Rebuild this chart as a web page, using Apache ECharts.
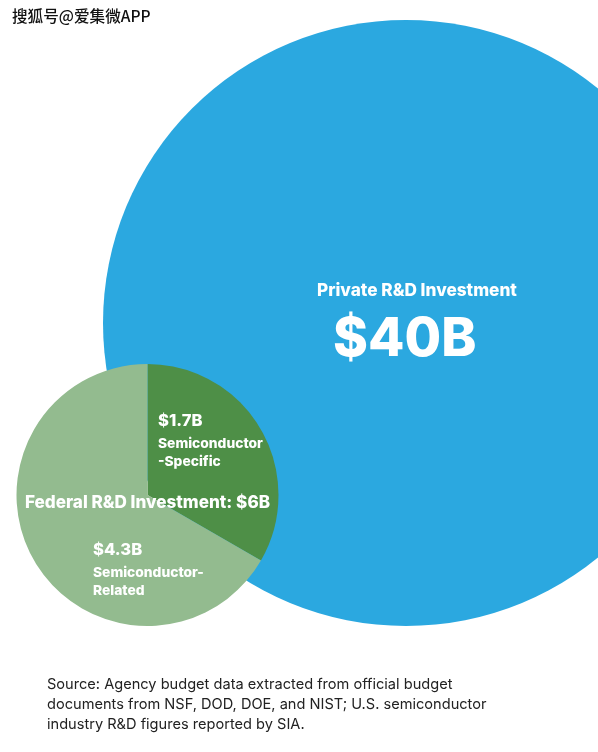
<!DOCTYPE html>
<html>
<head>
<meta charset="utf-8">
<style>html,body{margin:0;padding:0;background:#fff}#c{width:598px;height:752px}</style>
<script src="https://cdn.jsdelivr.net/npm/echarts@6/dist/echarts.min.js"></script>
</head>
<body>
<div id="c"></div>
<script>
// Labelled amounts ($B) as printed in the reference
const privateValue = 40;
const federalNames = ['Semiconductor-Specific', 'Semiconductor-Related'];
// Wedge shares as actually drawn in the reference (about 120 / 240 degrees),
// which differ from the printed 1.7 / 4.3 split.
const federalDrawnShares = [2, 4];
const federalColors = ['#4e8f47', '#93bb8f'];
const privateColor = '#2ba8e0';
const sourceLines = [
  'Source: Agency budget data extracted from official budget',
  'documents from NSF, DOD, DOE, and NIST; U.S. semiconductor',
  'industry R&D figures reported by SIA.'
];

const FONT = 'Inter, Lato, sans-serif';
const white = (text, x, y, size, extra) => ({
  type: 'text', x, y, z: 20,
  style: Object.assign({text, fill: '#fff', font: `800 ${size}px ${FONT}`, textVerticalAlign: 'middle'}, extra || {})
});

const chart = echarts.init(document.getElementById('c'), null, {renderer: 'canvas'});
chart.setOption({
  animation: false,
  backgroundColor: '#fff',
  series: [
    {
      type: 'pie', z: 1, center: [406, 323], radius: [0, 303], silent: true,
      label: {show: false}, labelLine: {show: false},
      itemStyle: {borderWidth: 0},
      data: [{name: 'Private R&D Investment', value: privateValue, itemStyle: {color: privateColor}}]
    },
    {
      type: 'pie', z: 2, center: [147.5, 495], radius: [0, 131], startAngle: 90, clockwise: true, silent: true,
      label: {show: false}, labelLine: {show: false},
      itemStyle: {borderWidth: 0},
      data: federalNames.map((name, i) => ({name, value: federalDrawnShares[i], itemStyle: {color: federalColors[i]}}))
    }
  ],
  graphic: [
    white('Private R&D Investment', 317, 291, 17.2),
    white('$40B', 333, 340, 53),
    white('$1.7B', 158, 421, 16.6),
    white('Semiconductor', 158, 444, 13.8),
    white('-Specific', 158, 462, 13.8),
    white('Federal R&D Investment: $6B', 25, 503, 17.1),
    white('$4.3B', 93, 550, 16.6),
    white('Semiconductor-', 93, 573, 13.8),
    white('Related', 93, 591, 13.8),
    ...sourceLines.map((t, i) => ({
      type: 'text', x: 47, y: 685 + i * 20, z: 20,
      style: {text: t, fill: '#222', font: `400 14.6px ${FONT}`, textVerticalAlign: 'middle'}
    })),
    {
      type: 'text', x: 12, y: 16, z: 30,
      style: {text: '搜狐号@爱集微APP', fill: '#111', stroke: '#fff', lineWidth: 1.5,
        font: '500 15.6px "Noto Sans CJK SC", sans-serif', textVerticalAlign: 'middle'}
    }
  ]
});
</script>
</body>
</html>
